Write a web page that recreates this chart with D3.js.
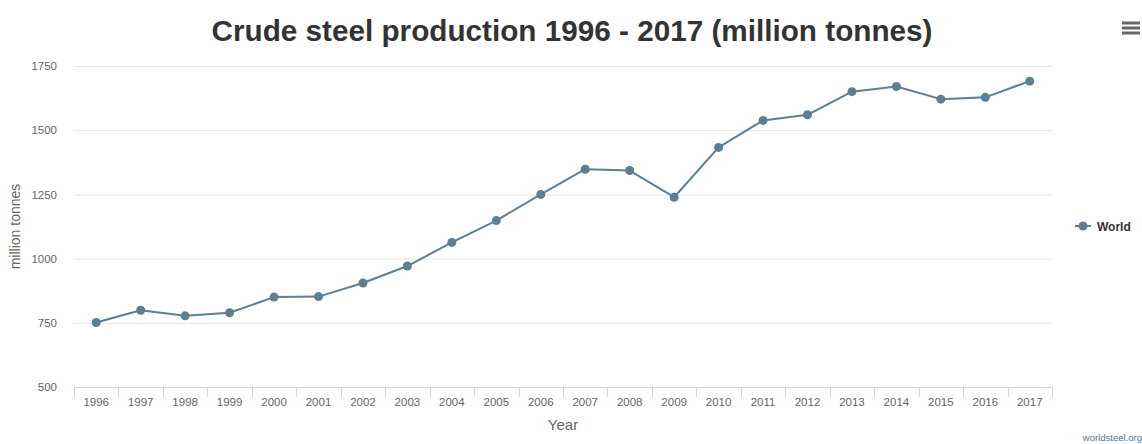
<!DOCTYPE html>
<html>
<head>
<meta charset="utf-8">
<script src="https://cdn.jsdelivr.net/npm/d3@7"></script>
<style>
  html, body { margin: 0; padding: 0; background: #fff; }
  svg { display: block; font-family: "Liberation Sans", Arial, Helvetica, sans-serif; }
</style>
</head>
<body>
<svg id="chart" width="1142" height="444"></svg>
<script>
// World crude steel production, million tonnes
const years = ["1996","1997","1998","1999","2000","2001","2002","2003","2004","2005","2006",
               "2007","2008","2009","2010","2011","2012","2013","2014","2015","2016","2017"];
const world = [751, 799, 777, 789, 850, 852, 905, 971, 1063, 1148, 1250,
               1348, 1343, 1239, 1433, 1538, 1560, 1650, 1670, 1621, 1628, 1691];
const yTicks = [500, 750, 1000, 1250, 1500, 1750];
const seriesName = "World";

const svg = d3.select("#chart");
const margin = { left: 74, right: 90, top: 66, bottom: 57 };
const W = 1142, H = 444;

const x = d3.scaleBand().domain(years).range([margin.left, W - margin.right]);
const y = d3.scaleLinear().domain([500, 1750]).range([H - margin.bottom, margin.top]);

const lineColor = "#5c7f94";

// horizontal grid lines
svg.append("g")
  .selectAll("line")
  .data(yTicks.filter(d => d !== 500))
  .join("line")
  .attr("x1", margin.left).attr("x2", W - margin.right)
  .attr("y1", d => y(d) + 0.5).attr("y2", d => y(d) + 0.5)
  .attr("stroke", "#e6e6e6").attr("stroke-width", 1);

// y axis labels
const yAxis = d3.axisLeft(y).tickValues(yTicks).tickFormat(d3.format("d")).tickSize(0).tickPadding(0);
const gy = svg.append("g").attr("transform", `translate(${margin.left - 17},0)`).call(yAxis);
gy.select(".domain").remove();
gy.selectAll("text").attr("font-size", 11.5).attr("fill", "#666")
  .attr("font-family", "Liberation Sans, Arial, sans-serif");

// x axis with tick marks on category boundaries
const xAxis = d3.axisBottom(x).tickSize(0).tickPadding(11);
const gx = svg.append("g").attr("transform", `translate(0,${H - margin.bottom})`).call(xAxis);
gx.select(".domain").attr("stroke", "#ccd6eb").attr("d", `M${margin.left},0.5H${W - margin.right}`);
gx.selectAll("text").attr("font-size", 11.5).attr("fill", "#666")
  .attr("font-family", "Liberation Sans, Arial, sans-serif");
svg.append("g")
  .selectAll("line")
  .data(years.map(d => x(d)).concat([x(years[years.length - 1]) + x.bandwidth()]))
  .join("line")
  .attr("x1", d => Math.round(d) + 0.5).attr("x2", d => Math.round(d) + 0.5)
  .attr("y1", H - margin.bottom).attr("y2", H - margin.bottom + 10)
  .attr("stroke", "#ccd6eb");

// axis titles
svg.append("text")
  .attr("x", (margin.left + W - margin.right) / 2).attr("y", 430)
  .attr("text-anchor", "middle").attr("font-size", 15).attr("fill", "#666")
  .text("Year");
svg.append("text")
  .attr("transform", `translate(20,${(margin.top + H - margin.bottom) / 2}) rotate(-90)`)
  .attr("text-anchor", "middle").attr("font-size", 14).attr("fill", "#666")
  .text("million tonnes");

// chart title
svg.append("text")
  .attr("x", 572).attr("y", 41)
  .attr("text-anchor", "middle").attr("font-size", 29.7).attr("font-weight", "bold")
  .attr("fill", "#333")
  .text("Crude steel production 1996 - 2017 (million tonnes)");

// series line and markers
const pts = years.map((yr, i) => [x(yr) + x.bandwidth() / 2, y(world[i])]);
svg.append("path")
  .attr("d", d3.line()(pts))
  .attr("fill", "none").attr("stroke", lineColor).attr("stroke-width", 2)
  .attr("stroke-linejoin", "round");
svg.append("g")
  .selectAll("circle")
  .data(pts)
  .join("circle")
  .attr("cx", d => d[0]).attr("cy", d => d[1]).attr("r", 4.5)
  .attr("fill", lineColor);

// legend
const lg = svg.append("g").attr("transform", "translate(1075,226)");
lg.append("line").attr("x1", 0).attr("x2", 16).attr("y1", 0).attr("y2", 0)
  .attr("stroke", lineColor).attr("stroke-width", 2);
lg.append("circle").attr("cx", 8).attr("cy", 0).attr("r", 4.5).attr("fill", lineColor);
lg.append("text").attr("x", 22).attr("y", 4.5).attr("font-size", 12)
  .attr("font-weight", "bold").attr("fill", "#333").text(seriesName);

// menu icon
const menu = svg.append("g").attr("transform", "translate(1122,0)");
[23, 28, 33].forEach(yy => {
  menu.append("line").attr("x1", 0).attr("x2", 18).attr("y1", yy).attr("y2", yy)
    .attr("stroke", "#666").attr("stroke-width", 3);
});

// credits
svg.append("text")
  .attr("x", 1142).attr("y", 441).attr("text-anchor", "end")
  .attr("font-size", 9.5).attr("fill", "#4f7892")
  .text("worldsteel.org");
</script>
</body>
</html>
